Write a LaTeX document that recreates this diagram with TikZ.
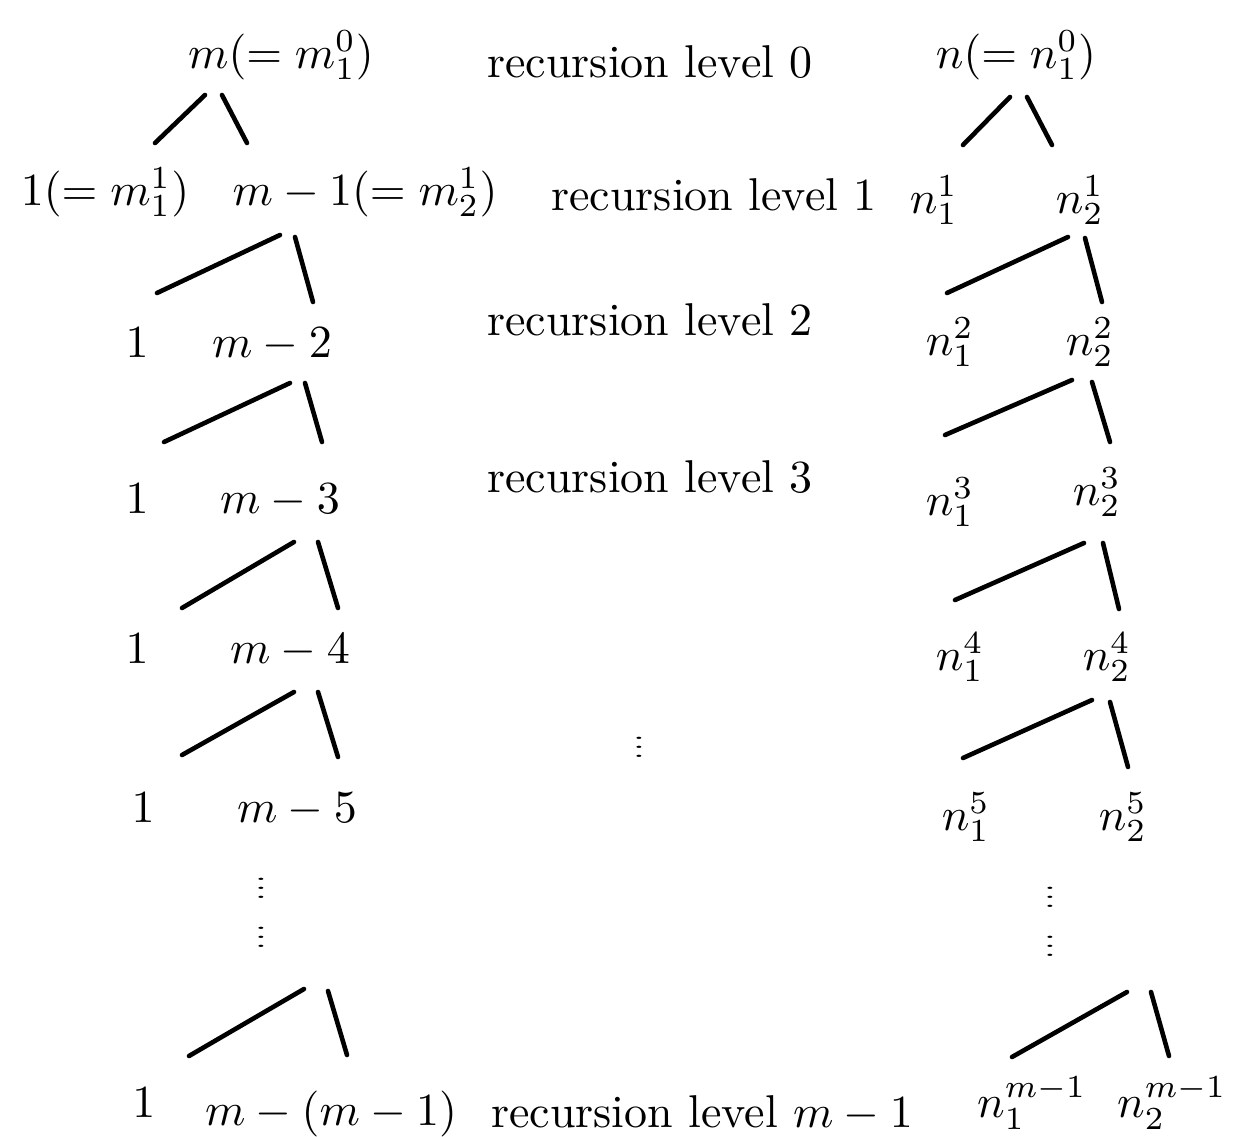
\documentclass[tikz,border=0pt]{standalone}
\usepackage{graphicx}
\newcommand{\smallvdots}{\scalebox{1}[0.48]{$\vdots$}}
\begin{document}
\begin{tikzpicture}[x=0.2174pt,y=-0.2174pt,
  lbl/.style={anchor=base,inner sep=0pt,outer sep=0pt},
  vd/.style={anchor=center,inner sep=0pt},
  edge/.style={line width=1pt,line cap=round}]
\useasboundingbox (0,0) rectangle (1234,1137);
% row 0
\node[lbl] (m0) at (281,68) {$m(=m_1^0)$};
\node[lbl] (lab0) at (650,77) {recursion level 0};
\node[lbl] (n0) at (1016,68) {$n(=n_1^0)$};
% row 1
\node[lbl] (a1) at (105,205) {$1(=m_1^1)$};
\node[lbl] (b1) at (365,205) {$m-1(=m_2^1)$};
\node[lbl] (lab1) at (714,210) {recursion level 1};
\node[lbl] (c1) at (934,213) {$n_1^1$};
\node[lbl] (d1) at (1080,213) {$n_2^1$};
% row 2
\node[lbl] (a2) at (137,357) {$1$};
\node[lbl] (b2) at (272,357) {$m-2$};
\node[lbl] (lab2) at (650,335) {recursion level 2};
\node[lbl] (c2) at (950,355) {$n_1^2$};
\node[lbl] (d2) at (1090,355) {$n_2^2$};
% row 3
\node[lbl] (a3) at (137,513) {$1$};
\node[lbl] (b3) at (280,513) {$m-3$};
\node[lbl] (lab3) at (650,492) {recursion level 3};
\node[lbl] (c3) at (950,515) {$n_1^3$};
\node[lbl] (d3) at (1097,505) {$n_2^3$};
% row 4
\node[lbl] (a4) at (137,663) {$1$};
\node[lbl] (b4) at (290,663) {$m-4$};
\node[lbl] (c4) at (960,670) {$n_1^4$};
\node[lbl] (d4) at (1107,670) {$n_2^4$};
% row 5
\node[lbl] (a5) at (143,822) {$1$};
\node[lbl] (b5) at (297,822) {$m-5$};
\node[lbl] (c5) at (966,830) {$n_1^5$};
\node[lbl] (d5) at (1123,830) {$n_2^5$};
% dots
\node[vd] (vm) at (639,741) {\smallvdots};
\node[vd] (vl1) at (261,882) {\smallvdots};
\node[vd] (vl2) at (261,931) {\smallvdots};
\node[vd] (vr1) at (1050,891) {\smallvdots};
\node[vd] (vr2) at (1050,940) {\smallvdots};
% last row
\node[lbl] (a6) at (144,1117) {$1$};
\node[lbl] (b6) at (331,1125) {$m-(m-1)$};
\node[lbl] (lab6) at (702,1127) {recursion level $m-1$};
\node[lbl] (c6) at (1032,1117) {$n_1^{m-1}$};
\node[lbl] (d6) at (1172,1117) {$n_2^{m-1}$};
% line end points
\foreach \nm/\x/\y in {
  L0at/205/95, L0ab/155/143, L0bt/222/95, L0bb/247/143,
  R0at/1010/97, R0ab/963/145, R0bt/1027/97, R0bb/1052/145,
  L1at/280/235, L1ab/157/293, L1bt/295/237, L1bb/313/302,
  R1at/1068/237, R1ab/947/293, R1bt/1085/238, R1bb/1102/302,
  L2at/290/383, L2ab/164/442, L2bt/305/383, L2bb/322/442,
  R2at/1072/380, R2ab/945/435, R2bt/1092/382, R2bb/1110/442,
  L3at/294/542, L3ab/182/608, L3bt/318/542, L3bb/338/608,
  R3at/1084/543, R3ab/955/600, R3bt/1103/543, R3bb/1119/609,
  L4at/294/692, L4ab/182/755, L4bt/318/692, L4bb/338/757,
  R4at/1092/700, R4ab/963/758, R4bt/1110/702, R4bb/1128/767,
  L5at/304/989, L5ab/189/1056, L5bt/328/991, L5bb/347/1055,
  R5at/1127/992, R5ab/1012/1057, R5bt/1151/992, R5bb/1169/1056}
  {\coordinate (\nm) at (\x,\y);}
\foreach \p in {L0,R0,L1,R1,L2,R2,L3,R3,L4,R4,L5,R5}{
  \draw[edge] (\p at) -- (\p ab);
  \draw[edge] (\p bt) -- (\p bb);
}
\end{tikzpicture}
\end{document}
